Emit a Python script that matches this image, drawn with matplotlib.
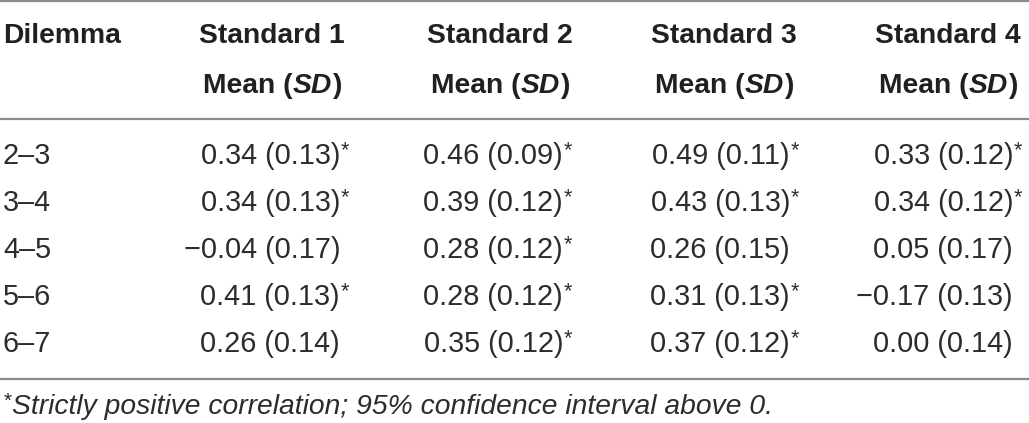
import matplotlib
matplotlib.use("Agg")
import matplotlib.pyplot as plt

# ---- data ----
dilemmas = ["2–3", "3–4", "4–5", "5–6", "6–7"]
standards = ["Standard 1", "Standard 2", "Standard 3", "Standard 4"]
means1 = [0.34, 0.34, -0.04, 0.41, 0.26]
sds1 = [0.13, 0.13, 0.17, 0.13, 0.14]
sig1 = [True, True, False, True, False]
means2 = [0.46, 0.39, 0.28, 0.28, 0.35]
sds2 = [0.09, 0.12, 0.12, 0.12, 0.12]
sig2 = [True, True, True, True, True]
means3 = [0.49, 0.43, 0.26, 0.31, 0.37]
sds3 = [0.11, 0.13, 0.15, 0.13, 0.12]
sig3 = [True, True, False, True, True]
means4 = [0.33, 0.34, 0.05, -0.17, 0.00]
sds4 = [0.12, 0.12, 0.17, 0.13, 0.14]
sig4 = [True, True, False, False, False]
footnote = "Strictly positive correlation; 95% confidence interval above 0."

W, H = 1029, 423
fig = plt.figure(figsize=(W / 100, H / 100), dpi=100)
ax = fig.add_axes([0, 0, 1, 1])
ax.set_xlim(0, W)
ax.set_ylim(H, 0)
ax.axis("off")

FONT = "Liberation Sans"
FS_H = 20.3
FS_D = 20.8
FS_F = 20.3
TXT = "#231f20"
TXT_D = "#2e2b2c"
RULE = "#8c8c8c"

renderer = fig.canvas.get_renderer()


def width_px(s, fontsize, weight="normal", style="normal"):
    t = ax.text(0, 0, s, fontsize=fontsize, family=FONT, weight=weight, style=style)
    bb = t.get_window_extent(renderer)
    t.remove()
    return bb.width


def pieces(parts, x, y, align="left"):
    """parts: list of (text, weight, style, size, dy)"""
    widths = [width_px(p[0], p[3], p[1], p[2]) for p in parts]
    total = sum(widths)
    if align == "center":
        x0 = x - total / 2
    elif align == "right":
        x0 = x - total
    else:
        x0 = x
    for (s, w, st, fs, dy), wd in zip(parts, widths):
        ax.text(x0, y + dy, s, fontsize=fs, family=FONT, weight=w, style=st,
                color=TXT, ha="left", va="baseline")
        x0 += wd


# rules
for yy in [1.5, 119, 379]:
    ax.plot([0, W], [yy, yy], color=RULE, lw=1.6, solid_capstyle="butt")

# header
hdr_y1, hdr_y2 = 43, 93
ax.text(3, hdr_y1, "Dilemma", fontsize=FS_H, family=FONT, weight="bold",
        color=TXT, ha="left", va="baseline")
col_centers = [272, 500, 724, 948]
for name, cx in zip(standards, col_centers):
    ax.text(cx, hdr_y1, name, fontsize=FS_H, family=FONT, weight="bold",
            color=TXT, ha="center", va="baseline")
    pieces([("Mean (", "bold", "normal", FS_H, 0),
            ("SD", "bold", "italic", FS_H, 0),
            (")", "bold", "normal", FS_H, 0)], cx, hdr_y2, align="center")


def fmt(v):
    s = f"{abs(v):.2f}"
    return ("\u2212" + s) if v < 0 else s


row_y = [164, 211, 258, 305, 352]
col_right = [340, 563, 790, 1013]
cols = [(means1, sds1, sig1), (means2, sds2, sig2),
        (means3, sds3, sig3), (means4, sds4, sig4)]

for i, d in enumerate(dilemmas):
    ax.text(3, row_y[i], d, fontsize=FS_D, family=FONT, color=TXT_D,
            ha="left", va="baseline")
    for (m, s, g), xr in zip(cols, col_right):
        ax.text(xr, row_y[i], f"{fmt(m[i])} ({s[i]:.2f})", fontsize=FS_D,
                family=FONT, color=TXT_D, ha="right", va="baseline")
        if g[i]:
            ax.text(xr + 1, row_y[i] - 8, "*", fontsize=FS_D * 0.75, family=FONT,
                    color=TXT_D, ha="left", va="baseline")

# footnote
ax.text(3, 407, "*", fontsize=FS_F * 0.75, family=FONT, style="italic",
        color=TXT_D, ha="left", va="baseline")
ax.text(12, 414, footnote, fontsize=FS_F, family=FONT, style="italic",
        color=TXT_D, ha="left", va="baseline")

fig.savefig("out.png", dpi=100, facecolor="white")
